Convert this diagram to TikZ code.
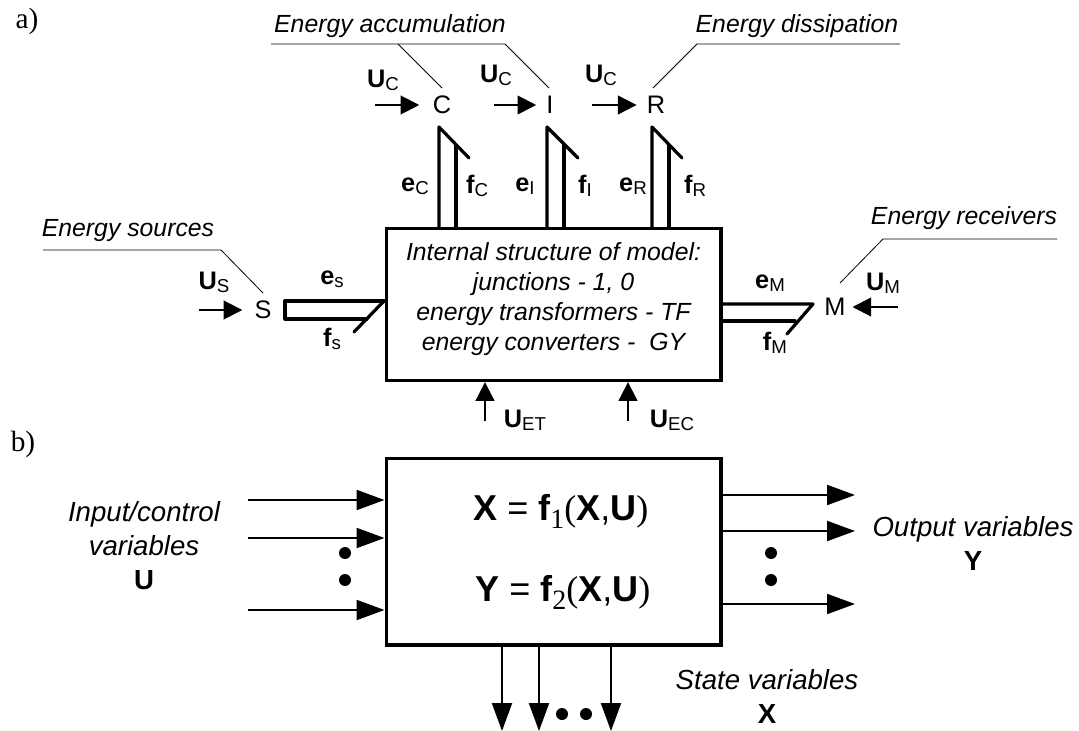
\documentclass[tikz,border=0pt]{standalone}
\usepackage{fontspec}
\setmainfont{Liberation Sans}
\newfontfamily\serifrm{Liberation Serif}
\usetikzlibrary{arrows.meta}
\newcommand{\fsz}[1]{\fontsize{#1}{#1}\selectfont}
\newcommand{\lab}[3][19]{{\fsz{#1}\textbf{#2}\raisebox{-2.4pt}{\fsz{14}#3}}}
\newcommand{\eqn}[2]{{\fsz{27}\textbf{#1} = \textbf{f}\raisebox{-6.5pt}{\serifrm\fsz{21}#2}{\serifrm\fsz{27}(}\textbf{X},\textbf{U}{\serifrm\fsz{27})}}}
\tikzset{
  box/.style={draw,line width=2.5pt,minimum width=251pt,minimum height=114pt,inner sep=0pt,anchor=center},
  bond/.style={line width=2.4pt,line cap=round,line join=round},
  leader/.style={line width=0.6pt},
  sig/.style={line width=1.5pt,-{Triangle[length=14pt,width=14pt]}},
  sigb/.style={line width=1.6pt,-{Triangle[length=21pt,width=15pt]}},
  txt/.style={inner sep=0pt,font=\fsz{18.6}\itshape,align=center},
  txtb/.style={inner sep=0pt,align=center,font=\fontsize{20.7}{25.5}\selectfont\itshape},
  lbl/.style={inner sep=0pt},
  el/.style={inner sep=0pt,font=\fsz{19}},
  dot/.style={circle,fill=black,inner sep=0pt,minimum size=9pt},
  serifl/.style={inner sep=0pt,font=\serifrm\fsz{22}}
}
\begin{document}
\begin{tikzpicture}[x=0.75pt,y=-0.75pt]
\useasboundingbox (0,0) rectangle (1079,731);
% panel labels
\node[serifl] (pa) at (27,21) {a)};
\node[serifl] (pb) at (23,444) {b)};
% boxes
\node[box] (A) at (553.5,304.5) {};
\node[lbl] (tA) at (553.5,299.5) {\fontsize{18.6}{22.5}\selectfont\itshape\begin{tabular}{@{}c@{}}Internal structure of model:\\junctions - 1, 0\\energy transformers - TF\\energy converters -\ \ GY\end{tabular}};
\node[box,minimum height=140pt] (B) at (553.5,551.5) {};
\node[lbl,anchor=base west] (eq1) at (473,520) {\eqn{X}{1}};
\node[lbl,anchor=base west] (eq2) at (475,601) {\eqn{Y}{2}};
% elements
\node[el] (C) at (442,105) {C};
\node[el] (I) at (550,105) {I};
\node[el] (R) at (656,105) {R};
\node[el] (S) at (263,310) {S};
\node[el] (M) at (835,307) {M};
% headings and leaders
\node[txt] (hacc) at (390,26) {Energy accumulation};
\node[txt] (hdis) at (797,26) {Energy dissipation};
\node[txt] (hsrc) at (128,231) {Energy sources};
\node[txt] (hrec) at (964,218) {Energy receivers};
\coordinate (l1) at (271,44); \coordinate (l2) at (505,44); \coordinate (l3) at (398,44);
\coordinate (l4) at (900,44); \coordinate (l5) at (697,44);
\coordinate (l6) at (43,250); \coordinate (l7) at (221,250);
\coordinate (l8) at (1057,239); \coordinate (l9) at (883,239);
\draw[leader] (l1) -- (l2) -- (549,88);
\draw[leader] (l3) -- (442,88);
\draw[leader] (l4) -- (l5) -- (653,88);
\draw[leader] (l6) -- (l7) -- (263,293);
\draw[leader] (l8) -- (l9) -- (840,283);
% signal arrows
\coordinate (uc1) at (375,105); \coordinate (uc2) at (494,105); \coordinate (uc3) at (592,105);
\coordinate (us) at (199,310); \coordinate (um) at (898,307);
\coordinate (uet) at (485,421); \coordinate (uec) at (628,421);
\draw[sig,shorten >=10pt] (uc1) -- (C.west);
\draw[sig,shorten >=7.5pt] (uc2) -- (I.west);
\draw[sig,shorten >=7.5pt] (uc3) -- (R.west);
\draw[sig,shorten >=9pt] (us) -- (S.west);
\draw[sig,shorten >=5pt] (um) -- (M.east);
\draw[sig] (uet) -- (uet |- A.south);
\draw[sig] (uec) -- (uec |- A.south);
% signal labels
\node[lbl] (tu1) at (383,80) {\lab{U}{C}};
\node[lbl] (tu2) at (496,75) {\lab{U}{C}};
\node[lbl] (tu3) at (601,75) {\lab{U}{C}};
\node[lbl] (tus) at (214,282) {\lab{U}{S}};
\node[lbl] (tum) at (883,283) {\lab{U}{M}};
\node[lbl] (tuet) at (525,420) {\lab{U}{ET}};
\node[lbl] (tuec) at (672,420) {\lab{U}{EC}};
% bonds
\coordinate (cA) at (439,127); \coordinate (cB) at (456,145); \coordinate (cC) at (469,158);
\coordinate (iA) at (547,127); \coordinate (iB) at (564,145); \coordinate (iC) at (578,158);
\coordinate (rA) at (652,127); \coordinate (rB) at (669,145); \coordinate (rC) at (682,158);
\draw[bond] (cA |- A.north) -- (cA) -- (cC);
\draw[bond] (cB |- A.north) -- (cB);
\draw[bond] (iA |- A.north) -- (iA) -- (iC);
\draw[bond] (iB |- A.north) -- (iB);
\draw[bond] (rA |- A.north) -- (rA) -- (rC);
\draw[bond] (rB |- A.north) -- (rB);
\coordinate (sT) at (285,301); \coordinate (sB) at (285,319); \coordinate (sC) at (384,301);
\coordinate (sD) at (367,319); \coordinate (sE) at (354,332);
\draw[bond] (sC) -- (sT) -- (sB) -- (sD);
\draw[bond] (sC) -- (sE);
\coordinate (mT) at (813,304); \coordinate (mB) at (795,321); \coordinate (mE) at (787,334);
\draw[bond] (mT -| A.east) -- (mT) -- (mE);
\draw[bond] (mB -| A.east) -- (mB);
% bond labels
\node[lbl] (te1) at (415,186) {\lab{e}{C}};
\node[lbl] (tf1) at (477,186) {\lab{f}{C}};
\node[lbl] (te2) at (525,186) {\lab{e}{I}};
\node[lbl] (tf2) at (585,186) {\lab{f}{I}};
\node[lbl] (te3) at (633,186) {\lab{e}{R}};
\node[lbl] (tf3) at (695,186) {\lab{f}{R}};
\node[lbl] (tes) at (332,279) {\lab{e}{s}};
\node[lbl] (tfs) at (332,339) {\lab{f}{s}};
\node[lbl] (tem) at (770,283) {\lab{e}{M}};
\node[lbl] (tfm) at (775,343) {\lab{f}{M}};
% panel b inputs / outputs
\coordinate (i1) at (248,500); \coordinate (i2) at (248,538); \coordinate (i3) at (248,610);
\coordinate (o1) at (855,495); \coordinate (o2) at (855,531); \coordinate (o3) at (855,604);
\coordinate (d1) at (502,731); \coordinate (d2) at (539,731); \coordinate (d3) at (611,731);
\draw[sigb] (i1) -- (i1 -| B.west);
\draw[sigb] (i2) -- (i2 -| B.west);
\draw[sigb] (i3) -- (i3 -| B.west);
\draw[sigb] (o1 -| B.east) -- (o1);
\draw[sigb] (o2 -| B.east) -- (o2);
\draw[sigb] (o3 -| B.east) -- (o3);
\draw[sigb] (d1 |- B.south) -- (d1);
\draw[sigb] (d2 |- B.south) -- (d2);
\draw[sigb] (d3 |- B.south) -- (d3);
\node[dot] (n1) at (345,553) {};
\node[dot] (n2) at (345,580) {};
\node[dot] (n3) at (771,553) {};
\node[dot] (n4) at (771,580) {};
\node[dot] (n5) at (562,714) {};
\node[dot] (n6) at (586,714) {};
% panel b texts
\node[txtb] (tin) at (144,546) {Input/control\\variables\\\upshape\bfseries U};
\node[txtb] (tout) at (973,543) {Output variables\\\upshape\bfseries Y};
\node[txtb] (tst) at (767,696) {State variables\\\upshape\bfseries X};
\end{tikzpicture}
\end{document}
